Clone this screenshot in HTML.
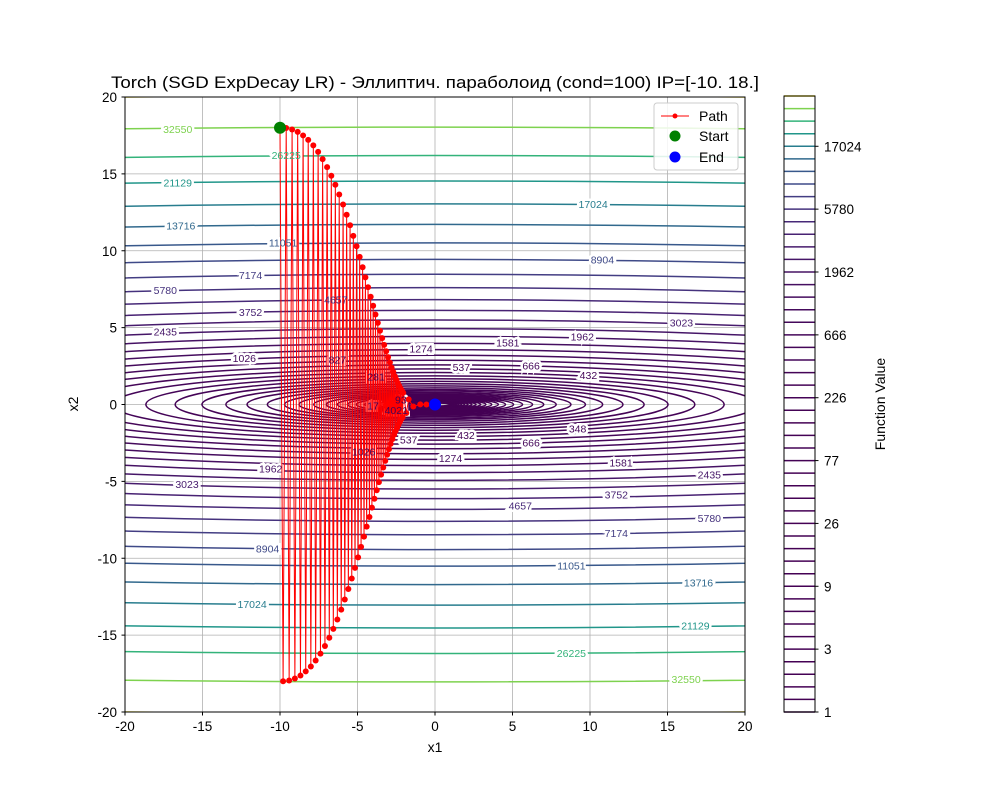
<!DOCTYPE html>
<html><head><meta charset="utf-8"><style>
body{margin:0;background:#fff}
svg{display:block;font-family:"Liberation Sans","DejaVu Sans",sans-serif}
</style></head><body>
<svg id="chart" width="1000" height="800" viewBox="0 0 1000 800" xmlns="http://www.w3.org/2000/svg">
<defs><clipPath id="plotclip"><rect x="125" y="97" width="620" height="615"/></clipPath></defs>
<rect width="1000" height="800" fill="#fff"/>
<text x="435" y="88" font-size="16.5" text-anchor="middle" textLength="648" lengthAdjust="spacingAndGlyphs">Torch (SGD ExpDecay LR) - Эллиптич. параболоид (cond=100) IP=[-10.  18.]</text>
<g id="grid"></g>
<g id="contours" clip-path="url(#plotclip)"></g>
<g id="labelhalo"></g>
<g id="path" clip-path="url(#plotclip)"></g>
<g id="labels"></g>
<rect x="125" y="97" width="620" height="615" fill="none" stroke="#000" stroke-width="1"/>
<g id="axes"></g>
<text x="435" y="752" font-size="14" text-anchor="middle">x1</text>
<text x="78" y="404" font-size="14" text-anchor="middle" transform="rotate(-90 78 404)">x2</text>
<g id="colorbar"></g>
<text x="885" y="404" font-size="14" text-anchor="middle" transform="rotate(-90 885 404)">Function Value</text>
<g>
<rect x="654" y="103" width="84" height="67" rx="3" fill="#fff" fill-opacity="0.85" stroke="#ccc"/>
<g><line x1="661" y1="116" x2="689" y2="116" stroke="red" stroke-width="1"/><circle cx="675" cy="116" r="2.5" fill="red"/><text x="699" y="121" font-size="14">Path</text></g>
<g><circle cx="675" cy="136" r="5.5" fill="green"/><text x="699" y="141" font-size="14">Start</text></g>
<g><circle cx="675" cy="157" r="5.5" fill="blue"/><text x="699" y="162" font-size="14">End</text></g>
</g>
</svg>
<script>
const levels=[1,1.24,1.54,1.91,2.38,2.95,3.66,4.55,5.65,7.01,8.71,10.8,13.4,16.7,20.7,25.7,31.9,39.6,49.2,61.1,76.9,94.2,117,147,182,226,281,348,432,537,666,827,1026,1274,1581,1962,2435,3023,3752,4657,5780,7174,8904,11051,13716,17024,21129,26225,32550,40400];
const cbTickIdx=[0,5,10,15,20,25,30,35,40,45];
const cbTickLabels=["1","3","9","26","77","226","666","1962","5780","17024"];
const pathX1=[-10,-9.80,-9.60,-9.41,-9.22,-9.04,-8.86,-8.68,-8.51,-8.34,-8.18,-8.01,-7.85,-7.70,-7.54,-7.39,-7.25,-7.10,-6.96,-6.82,-6.69,-6.56,-6.43,-6.30,-6.18,-6.05,-5.93,-5.82,-5.70,-5.59,-5.48,-5.37,-5.27,-5.16,-5.06,-4.96,-4.86,-4.77,-4.67,-4.58,-4.49,-4.41,-4.32,-4.23,-4.15,-4.07,-3.99,-3.91,-3.84,-3.76,-3.69,-3.62,-3.55,-3.48,-3.41,-3.34,-3.28,-3.21,-3.15,-3.09,-3.03,-2.97,-2.91,-2.86,-2.80,-2.75,-2.69,-2.64,-2.59,-2.54,-2.49,-2.44,-2.40,-2.35,-2.31,-2.26,-2.22,-2.18,-2.13,-2.09,-2.05,-1.85,-1.70,-1.40,-0.95,-0.55,-0.20,0];
const pathX2=[18,-18,17.98,-17.95,17.89,-17.82,17.73,-17.63,17.50,-17.36,17.21,-17.04,16.85,-16.65,16.43,-16.20,15.96,-15.71,15.44,-15.17,14.88,-14.59,14.29,-13.98,13.66,-13.34,13.01,-12.68,12.34,-12.00,11.66,-11.32,10.97,-10.63,10.29,-9.94,9.60,-9.26,8.93,-8.59,8.27,-7.94,7.63,-7.32,7.01,-6.71,6.42,-6.13,5.85,-5.58,5.31,-5.05,4.80,-4.56,4.32,-4.10,3.88,-3.67,3.46,-3.27,3.08,-2.90,2.73,-2.56,2.40,-2.25,2.11,-1.97,1.84,-1.72,1.61,-1.50,1.40,-1.30,1.21,-1.12,1.04,-0.96,0.89,-0.82,0.76,-0.55,0.33,-0.13,0.01,0,0,0];
const labelText=["32550","32550","26225","26225","21129","21129","17024","17024","13716","13716","11051","11051","8904","8904","7174","7174","5780","5780","4657","4657","3752","3752","3023","3023","2435","2435","1962","1962","1581","1581","1274","1274","1026","1026","827","666","666","537","537","432","432","348","281","4021","17","93"];
const labelLevel=[48,48,47,47,46,46,45,45,44,44,43,43,42,42,41,41,40,40,39,39,38,38,37,37,36,36,35,35,34,34,33,33,32,32,31,30,30,29,29,28,28,27,26,28,12,21];
const labelX1=[-16.6,16.2,-9.6,8.8,-16.6,16.8,10.2,-11.8,-16.4,17.0,-9.8,8.8,10.8,-10.8,-11.9,11.7,-17.4,17.7,-6.4,5.5,-11.9,11.7,15.9,-16.0,-17.4,17.7,9.5,-10.6,4.7,12.0,-0.9,1.0,-12.3,-4.6,-6.3,6.2,6.2,1.7,-1.7,9.9,2.0,9.2,-3.8,-2.5,-4.0,-2.2];
const labelX2=[17.9,-17.9,16.2,-16.2,14.4,-14.4,13.0,-13.0,11.6,-11.6,10.5,-10.5,9.4,-9.4,8.4,-8.4,7.4,-7.4,6.8,-6.6,6.0,-5.9,5.3,-5.2,4.7,-4.6,4.4,-4.2,4.0,-3.8,3.6,-3.5,3.0,-3.1,2.9,2.5,-2.5,2.4,-2.3,1.9,-2.0,-1.6,1.8,-0.4,-0.1,0.3];

const NS="http://www.w3.org/2000/svg";
const X=v=>125+(v+20)*15.5, Y=v=>404.5-v*15.375;
const vir=[[68,1,84],[72,36,117],[65,68,135],[53,95,141],[42,120,142],[33,145,140],[34,168,132],[68,191,112],[122,209,81],[189,223,38],[253,231,37]];
function color(L){let t=Math.max(0,Math.min(1,L/levels[levels.length-1]))*10;let i=Math.min(9,Math.floor(t)),f=t-i;const c=vir[i].map((a,k)=>Math.round(a+(vir[i+1][k]-a)*f));return `rgb(${c})`;}
function mk(tag,attrs,parent){const e=document.createElementNS(NS,tag);for(const k in attrs)e.setAttribute(k,attrs[k]);parent.appendChild(e);return e;}

// grid + ticks
const grid=document.getElementById('grid'), axes=document.getElementById('axes');
const ticks=[-20,-15,-10,-5,0,5,10,15,20];
ticks.forEach(t=>{
  const gx=mk('line',{x1:X(t),x2:X(t),y1:97,y2:712,stroke:'#b0b0b0','stroke-width':0.8},grid);
  
  
  const gy=mk('line',{x1:125,x2:745,y1:Y(t),y2:Y(t),stroke:'#b0b0b0','stroke-width':0.8},grid);
  
  
  mk('line',{x1:X(t),x2:X(t),y1:712,y2:715.5,stroke:'#000'},axes);
  const xl=mk('text',{x:X(t),y:731,'font-size':13.5,'text-anchor':'middle'},axes);xl.textContent=t;
  
  
  mk('line',{x1:121.5,x2:125,y1:Y(t),y2:Y(t),stroke:'#000'},axes);
  const yl=mk('text',{x:117,y:Y(t)+5,'font-size':13.5,'text-anchor':'end'},axes);yl.textContent=t;
  
  
});

// contours
const cg=document.getElementById('contours');
levels.forEach(L=>{
  const e=mk('ellipse',{cx:X(0),cy:Y(0),rx:Math.sqrt(L)*15.5,ry:Math.sqrt(L)/10*15.375,fill:'none',stroke:color(L),'stroke-width':1.5},cg);
  
  
});

// labels
const halo=document.getElementById('labelhalo'), lg=document.getElementById('labels');
labelText.forEach((s,i)=>{
  const x=X(labelX1[i]), y=Y(labelX2[i])+3.5, c=color(levels[labelLevel[i]]);
  const h=mk('text',{x:x,y:y,'font-size':10.5,'text-anchor':'middle',fill:'#fff',stroke:'#fff','stroke-width':5},halo);h.textContent=s;
  
  
  const t=mk('text',{x:x,y:y,'font-size':10.5,'text-anchor':'middle',fill:c},lg);t.textContent=s;
  
  
});

// path
const pg=document.getElementById('path');
const pts=pathX1.map((v,i)=>X(v)+','+Y(pathX2[i])).join(' ');
const pl=mk('polyline',{points:pts,fill:'none',stroke:'red','stroke-width':1},pg);


pathX1.forEach((v,i)=>{
  const c=mk('circle',{cx:X(v),cy:Y(pathX2[i]),r:3,fill:'red'},pg);
  
  
});
const st=mk('circle',{cx:X(pathX1[0]),cy:Y(pathX2[0]),r:6,fill:'green'},pg);


const n=pathX1.length-1;
const en=mk('circle',{cx:X(pathX1[n]),cy:Y(pathX2[n]),r:6,fill:'blue'},pg);



// colorbar
const cb=document.getElementById('colorbar');
const cbTop=96,cbBot=712,step=(cbBot-cbTop)/(levels.length-1);
levels.forEach((L,i)=>{
  const y=cbBot-i*step;
  const l=mk('line',{x1:784,x2:815,y1:y,y2:y,stroke:color(L),'stroke-width':1.5},cb);
  
  
});
const cf=mk('rect',{x:784,y:cbTop,width:31,height:cbBot-cbTop,fill:'none',stroke:'#000','stroke-width':1},cb);


cbTickIdx.forEach((k,j)=>{
  const y=cbBot-k*step;
  mk('line',{x1:815,x2:818.5,y1:y,y2:y,stroke:'#000'},cb);
  const t=mk('text',{x:824,y:y+5,'font-size':13.5},cb);t.textContent=cbTickLabels[j];
  
  
});
</script>
</body></html>
